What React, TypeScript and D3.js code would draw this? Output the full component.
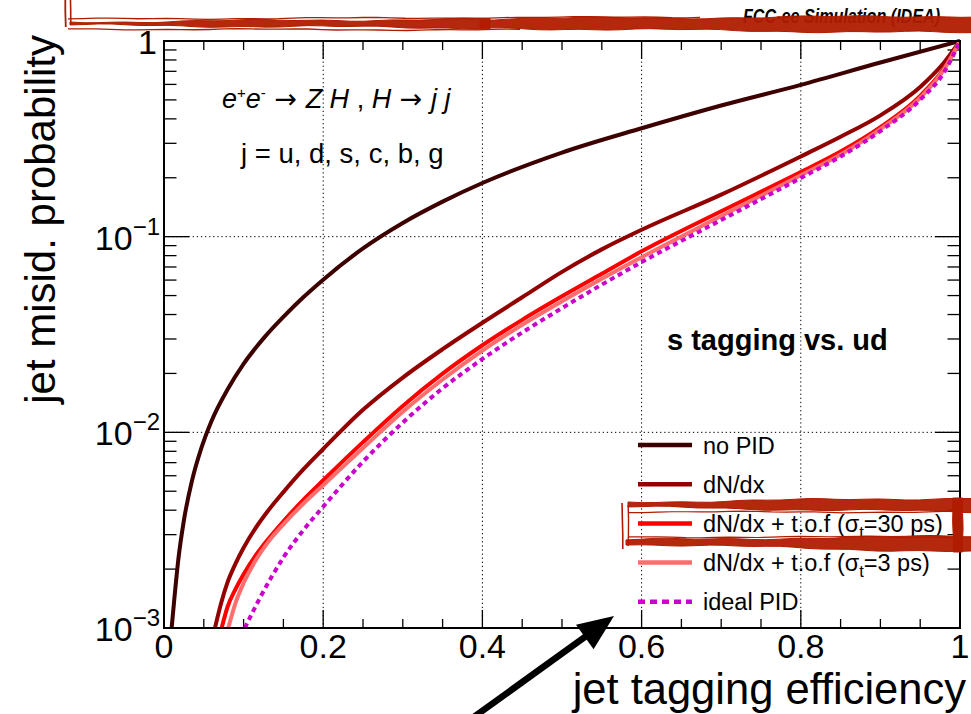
import React from "react";
import * as d3 from "d3";

// ---------- data ----------
const effNoPID = [0.0096, 0.013, 0.018, 0.025, 0.035, 0.047, 0.06, 0.08, 0.1, 0.125, 0.15, 0.175, 0.2, 0.25, 0.3, 0.35, 0.4, 0.5, 0.6, 0.7, 0.8, 0.9, 1.0];
const misNoPID = [0.001, 0.00141, 0.00224, 0.00355, 0.00562, 0.00832, 0.0115, 0.0166, 0.0224, 0.0302, 0.0389, 0.049, 0.0603, 0.0871, 0.1175, 0.151, 0.188, 0.269, 0.358, 0.468, 0.597, 0.776, 1.0];

const effDNdx = [0.064, 0.072, 0.08, 0.09, 0.1, 0.115, 0.13, 0.15, 0.175, 0.2, 0.25, 0.3, 0.35, 0.4, 0.45, 0.5, 0.55, 0.6, 0.7, 0.8, 0.85, 0.9, 0.95, 0.98, 1.0];
const misDNdx = [0.001, 0.00135, 0.00172, 0.00214, 0.00257, 0.00324, 0.00394, 0.00495, 0.00646, 0.00822, 0.01303, 0.01905, 0.0266, 0.0363, 0.049, 0.0661, 0.0861, 0.1084, 0.164, 0.257, 0.324, 0.417, 0.582, 0.776, 1.0];

const effTof30 = [0.0724, 0.08, 0.09, 0.1, 0.115, 0.13, 0.15, 0.175, 0.2, 0.25, 0.3, 0.35, 0.4, 0.45, 0.5, 0.55, 0.6, 0.7, 0.8, 0.85, 0.9, 0.95, 0.98, 1.0];
const misTof30 = [0.001, 0.001288, 0.001585, 0.001884, 0.002344, 0.002818, 0.003508, 0.004519, 0.005689, 0.008913, 0.01365, 0.01995, 0.02786, 0.03758, 0.04955, 0.06457, 0.08414, 0.1349, 0.2138, 0.2723, 0.3631, 0.5248, 0.7244, 1.0];

const effTof3 = [0.0807, 0.09, 0.1, 0.115, 0.13, 0.15, 0.175, 0.2, 0.25, 0.3, 0.35, 0.4, 0.45, 0.5, 0.55, 0.6, 0.7, 0.8, 0.85, 0.9, 0.95, 0.98, 1.0];
const misTof3 = [0.001, 0.001349, 0.001698, 0.002213, 0.002723, 0.003388, 0.004315, 0.00537, 0.008318, 0.01274, 0.01862, 0.02618, 0.03548, 0.04677, 0.06095, 0.07852, 0.1274, 0.2061, 0.263, 0.3548, 0.5129, 0.7161, 1.0];

const effIdeal = [0.1016, 0.11, 0.12, 0.135, 0.15, 0.175, 0.2, 0.25, 0.3, 0.35, 0.4, 0.45, 0.5, 0.55, 0.6, 0.7, 0.8, 0.85, 0.9, 0.95, 0.98, 1.0];
const misIdeal = [0.001, 0.001175, 0.001413, 0.00182, 0.002291, 0.003162, 0.004169, 0.007079, 0.01122, 0.01679, 0.02371, 0.03236, 0.04315, 0.05689, 0.07413, 0.1216, 0.1995, 0.257, 0.3467, 0.5012, 0.6918, 1.0];

const seriesLabels = ["no PID", "dN/dx", "dN/dx + t.o.f (σ_t=30 ps)", "dN/dx + t.o.f (σ_t=3 ps)", "ideal PID"];
const seriesColors = ["#3d0000", "#920000", "#ff0000", "#ff6e6e", "#cc00cc"];
const seriesDash = [null, null, null, null, "5 4"];

const xMajorTicks = [0, 0.2, 0.4, 0.6, 0.8, 1];
const xTickLabels = ["0", "0.2", "0.4", "0.6", "0.8", "1"];
const yMajorTicks = [0.001, 0.01, 0.1, 1];
const yTickExponents = ["−3", "−2", "−1", ""];

const xTitle = "jet tagging efficiency";
const yTitle = "jet misid. probability";
const headerText = "FCC-ee Simulation (IDEA)";
const sampleText = "s tagging vs. ud";
const flavourText = "j = u, d, s, c, b, g";

// ---------- layout ----------
const W = 971;
const H = 714;
const PL = 164, PR = 960, PT = 41, PB = 628;
const FONT = "'Liberation Sans', Arial, Helvetica, sans-serif";
const ANN = "#b01c00";

function wob(i: number, k: number) {
  return 0.9 * Math.sin(0.37 * i + 1.9 * k) + 0.5 * Math.sin(1.3 * i + 0.7 * k);
}

// rough filled band: top/bottom edges linear between ends, wobbly
function bandPoly(x0: number, x1: number, t0: number, b0: number, t1: number, b1: number, key: string, k = 0) {
  const steps = Math.max(2, Math.round((x1 - x0) / 14));
  const top: [number, number][] = [];
  const bot: [number, number][] = [];
  for (let i = 0; i <= steps; i++) {
    const u = i / steps;
    const xx = x0 + (x1 - x0) * u;
    top.push([xx, t0 + (t1 - t0) * u + wob(i, k)]);
    bot.push([xx, b0 + (b1 - b0) * u + wob(i, k + 2)]);
  }
  const pts = top.concat(bot.reverse());
  return <path key={key} d={(d3.line()(pts) || "") + "Z"} fill={ANN} fillOpacity={0.95} stroke={ANN} strokeWidth={1} />;
}

function sketchLine(x0: number, y0: number, x1: number, y1: number, key: string, sw = 1.5, k = 0) {
  const len = Math.hypot(x1 - x0, y1 - y0);
  const steps = Math.max(2, Math.round(len / 14));
  const nx = -(y1 - y0) / len, ny = (x1 - x0) / len;
  const pts: [number, number][] = [];
  for (let i = 0; i <= steps; i++) {
    const u = i / steps;
    const w = 0.6 * wob(i, k);
    pts.push([x0 + (x1 - x0) * u + nx * w, y0 + (y1 - y0) * u + ny * w]);
  }
  return <path key={key} d={d3.line()(pts) || ""} fill="none" stroke={ANN} strokeWidth={sw} />;
}

function vBandPoly(y0: number, y1: number, l0: number, r0: number, l1: number, r1: number, key: string) {
  const steps = Math.max(2, Math.round((y1 - y0) / 8));
  const left: [number, number][] = [];
  const right: [number, number][] = [];
  for (let i = 0; i <= steps; i++) {
    const u = i / steps;
    const yy = y0 + (y1 - y0) * u;
    left.push([l0 + (l1 - l0) * u + 0.6 * wob(i, 1), yy]);
    right.push([r0 + (r1 - r0) * u + 0.6 * wob(i, 4), yy]);
  }
  return <path key={key} d={(d3.line()(left.concat(right.reverse())) || "") + "Z"} fill={ANN} stroke={ANN} strokeWidth={1} />;
}

function renderLabel(label: string, fs: number) {
  const idx = label.indexOf("_");
  if (idx < 0) return label;
  const pre = label.slice(0, idx);
  const sub = label.slice(idx + 1, idx + 2);
  const post = label.slice(idx + 2);
  return (
    <>
      <tspan>{pre}</tspan>
      <tspan dy={6} fontSize={fs * 0.7}>{sub}</tspan>
      <tspan dy={-6}>{post}</tspan>
    </>
  );
}

export default function App() {
  const x = d3.scaleLinear().domain([0, 1]).range([PL, PR]);
  const y = d3.scaleLog().domain([1e-3, 1]).range([PB, PT]);
  const line = d3
    .line<[number, number]>()
    .x((d) => x(d[0]))
    .y((d) => y(d[1]))
    .curve(d3.curveMonotoneX);

  const series = [
    [effNoPID, misNoPID],
    [effDNdx, misDNdx],
    [effTof30, misTof30],
    [effTof3, misTof3],
    [effIdeal, misIdeal],
  ].map(([e, m]) => e.map((v, i) => [v, m[i]] as [number, number]));

  const xMinor = d3.range(0, 1.0001, 0.05).filter((v) => Math.abs(v / 0.2 - Math.round(v / 0.2)) > 1e-6);
  const yAll = y.ticks();
  const yMinor = yAll.filter((v) => Math.abs(Math.log10(v) - Math.round(Math.log10(v))) > 1e-6);

  const xMajLen = 18, xMinLen = 9, yMajLen = 25, yMinLen = 12.5;

  const legendX0 = 638, legendX1 = 692, legendTextX = 703, legendY0 = 445, legendDY = 39.2, legendFS = 23.5;

  // arrow
  const tip: [number, number] = [614, 616];
  const tail: [number, number] = [453, 732];
  const dx = tip[0] - tail[0], dy = tip[1] - tail[1];
  const L = Math.hypot(dx, dy);
  const ux = dx / L, uy = dy / L;
  const headL = 36, headW = 15;
  const base: [number, number] = [tip[0] - ux * headL, tip[1] - uy * headL];
  const head = [
    tip,
    [base[0] - uy * headW, base[1] + ux * headW],
    [base[0] + uy * headW, base[1] - ux * headW],
  ];

  const arrowFont = "'DejaVu Sans', 'Liberation Sans', sans-serif";

  return (
    <svg width={W} height={H} style={{ position: "fixed", left: 0, top: 0, background: "#fff" }} fontFamily={FONT}>
      <rect x={0} y={0} width={W} height={H} fill="#fff" />
      <defs>
        <clipPath id="plotclip">
          <rect x={PL} y={PT - 2} width={PR - PL} height={PB - PT + 2} />
        </clipPath>
      </defs>

      {/* grid */}
      <g stroke="#000" strokeWidth={1} strokeDasharray="1.3 2.8">
        {xMajorTicks.filter((v) => v > 0 && v < 1).map((v) => (
          <line key={"gx" + v} x1={x(v)} x2={x(v)} y1={PT} y2={PB} />
        ))}
        {yMajorTicks.filter((v) => v > 0.001 && v < 1).map((v) => (
          <line key={"gy" + v} x1={PL} x2={PR} y1={y(v)} y2={y(v)} />
        ))}
      </g>

      {/* ticks */}
      <g stroke="#000" strokeWidth={1.3}>
        {xMajorTicks.map((v) => (
          <g key={"xt" + v}>
            <line x1={x(v)} x2={x(v)} y1={PB} y2={PB - xMajLen} />
            <line x1={x(v)} x2={x(v)} y1={PT} y2={PT + xMajLen} />
          </g>
        ))}
        {xMinor.map((v) => (
          <g key={"xm" + v}>
            <line x1={x(v)} x2={x(v)} y1={PB} y2={PB - xMinLen} />
            <line x1={x(v)} x2={x(v)} y1={PT} y2={PT + xMinLen} />
          </g>
        ))}
        {yMajorTicks.map((v) => (
          <g key={"yt" + v}>
            <line x1={PL} x2={PL + yMajLen} y1={y(v)} y2={y(v)} />
            <line x1={PR} x2={PR - yMajLen} y1={y(v)} y2={y(v)} />
          </g>
        ))}
        {yMinor.map((v) => (
          <g key={"ym" + v}>
            <line x1={PL} x2={PL + yMinLen} y1={y(v)} y2={y(v)} />
            <line x1={PR} x2={PR - yMinLen} y1={y(v)} y2={y(v)} />
          </g>
        ))}
      </g>

      {/* curves */}
      <g clipPath="url(#plotclip)" fill="none">
        {series.map((pts, i) => (
          <path
            key={"s" + i}
            d={line(pts) || ""}
            stroke={seriesColors[i]}
            strokeWidth={4}
            strokeDasharray={seriesDash[i] || undefined}
            strokeLinejoin="round"
          />
        ))}
      </g>

      {/* frame */}
      <rect x={PL} y={PT} width={PR - PL} height={PB - PT} fill="none" stroke="#000" strokeWidth={2} />

      {/* tick labels */}
      <g fontSize={34} fill="#000">
        {xMajorTicks.map((v, i) => (
          <text key={"xl" + v} x={x(v)} y={657.5} textAnchor="middle">
            {xTickLabels[i]}
          </text>
        ))}
        {yMajorTicks.map((v, i) =>
          yTickExponents[i] === "" ? (
            <text key={"yl" + v} x={157} y={y(v) + 13} textAnchor="end">1</text>
          ) : (
            <text key={"yl" + v} x={160} y={y(v) + 13} textAnchor="end">
              <tspan>10</tspan>
              <tspan dy={-15} fontSize={24}>{yTickExponents[i]}</tspan>
            </text>
          )
        )}
      </g>

      {/* axis titles */}
      <text x={966} y={704} textAnchor="end" fontSize={43.5} fill="#000">{xTitle}</text>
      <text transform="translate(55,35) rotate(-90)" textAnchor="end" fontSize={42} fill="#000">{yTitle}</text>

      {/* in-plot text */}
      <text x={222} y={108} fontSize={27} fill="#000">
        <tspan fontStyle="italic">e</tspan>
        <tspan dy={-10} fontSize={15}>+</tspan>
        <tspan dy={10} fontStyle="italic">e</tspan>
        <tspan dy={-10} fontSize={15}>-</tspan>
        <tspan dy={10} fontFamily={arrowFont}>{" \u2192 "}</tspan>
        <tspan fontStyle="italic">Z H</tspan>
        <tspan>{" , "}</tspan>
        <tspan fontStyle="italic">H</tspan>
        <tspan fontFamily={arrowFont}>{" \u2192 "}</tspan>
        <tspan fontStyle="italic">j j</tspan>
      </text>
      <text x={241} y={163} fontSize={27.5} fill="#000">{flavourText}</text>
      <text x={667} y={350} fontSize={29} fontWeight="bold" fill="#000">{sampleText}</text>

      {/* legend */}
      {seriesLabels.map((lab, i) => {
        const ly = legendY0 + i * legendDY;
        return (
          <g key={"lg" + i}>
            <line x1={legendX0} x2={legendX1} y1={ly} y2={ly} stroke={seriesColors[i]} strokeWidth={4.5}
              strokeDasharray={seriesDash[i] ? "7 5" : undefined} />
            <text x={legendTextX} y={ly + 8.5} fontSize={legendFS} fill="#000">{renderLabel(lab, legendFS)}</text>
          </g>
        );
      })}

      {/* header */}
      <text x={743} y={23} fontSize={20} fontWeight="bold" fontStyle="italic" fill="#000"
        textLength={197} lengthAdjust="spacingAndGlyphs">{headerText}</text>

      {/* hand drawn annotations: header box */}
      <g>
        {bandPoly(70, 490, 22, 25, 19, 28, "tb1", 0)}
        {bandPoly(480, 975, 19, 28, 16, 33, "tb2", 1)}
        {sketchLine(68, 19, 700, 17, "tl1", 1.3, 2)}
        {sketchLine(68, 29, 520, 30, "tl2", 1.3, 3)}
        {sketchLine(66, -4, 66, 27, "tv1", 1.8, 1)}
        {sketchLine(71, -4, 71, 24, "tv2", 1.6, 4)}
      </g>

      {/* hand drawn annotations: legend box */}
      <g>
        {bandPoly(628, 975, 502, 507, 498, 512, "lt", 0)}
        {bandPoly(626, 975, 540, 544, 536, 552, "lb", 2)}
        {sketchLine(629, 512, 957, 512, "li1", 1.2, 1)}
        {sketchLine(629, 537, 957, 537, "li2", 1.2, 3)}
        {sketchLine(622, 503, 622, 549, "ll1", 1.6, 2)}
        {sketchLine(628, 505, 628, 546, "ll2", 1.4, 5)}
        {vBandPoly(498, 552, 952, 962, 954, 963, "lr")}
      </g>

      {/* arrow */}
      <g>
        <line x1={tail[0]} y1={tail[1]} x2={base[0] + ux * 2} y2={base[1] + uy * 2} stroke="#000" strokeWidth={6.5} />
        <polygon points={head.map((p) => p.join(",")).join(" ")} fill="#000" />
      </g>
    </svg>
  );
}
